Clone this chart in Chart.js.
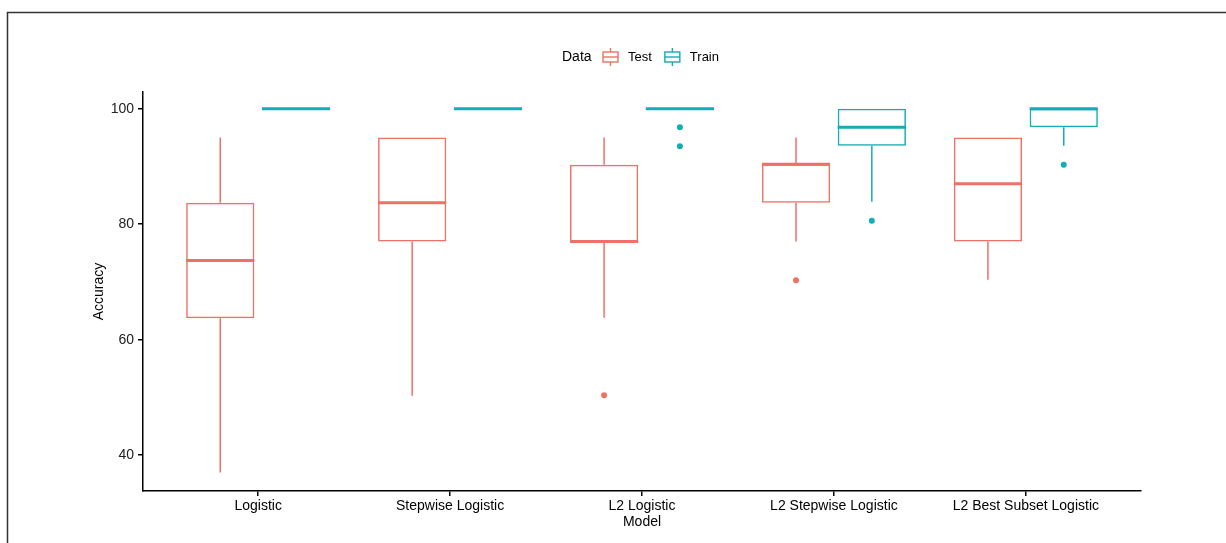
<!DOCTYPE html>
<html>
<head>
<meta charset="utf-8">
<script src="https://cdn.jsdelivr.net/npm/chart.js@4.4.1/dist/chart.umd.min.js"></script>
<style>
  html, body { margin: 0; padding: 0; background: #fff; }
  #wrap { position: relative; width: 1226px; height: 543px; }
</style>
</head>
<body>
<div id="wrap"><canvas id="boxChart" width="1226" height="543"></canvas></div>
<script>
// categories + ticks
const models = ['Logistic', 'Stepwise Logistic', 'L2 Logistic', 'L2 Stepwise Logistic', 'L2 Best Subset Logistic'];
const yTicks = [40, 60, 80, 100];

// Test boxes
const testLow = [37.0, 50.3, 63.8, 77.0, 70.4];
const testQ1 = [63.7, 77.0, 77.0, 83.7, 77.0];
const testMedian = [73.7, 83.7, 77.0, 90.4, 87.0];
const testQ3 = [83.7, 95.0, 90.3, 90.4, 95.0];
const testHigh = [95.0, 95.0, 95.0, 95.0, 95.0];
const testOutliers = [[], [], [50.4], [70.3], []];

// Train boxes
const trainLow = [100, 100, 100, 83.9, 93.6];
const trainQ1 = [100, 100, 100, 93.6, 96.8];
const trainMedian = [100, 100, 100, 96.8, 100];
const trainQ3 = [100, 100, 100, 100, 100];
const trainHigh = [100, 100, 100, 100, 100];
const trainOutliers = [[], [], [96.8, 93.5], [80.6], [90.3]];

const testColor = '#EE7166';
const trainColor = '#14ADB3';
const font = "'Liberation Sans', Arial, sans-serif";

function boxData(q1, q3) {
    return models.map((m, i) => ({ x: i, y: [q1[i], q3[i]] }));
}

function line(ctx, x1, y1, x2, y2) {
    ctx.beginPath();
    ctx.moveTo(x1, y1);
    ctx.lineTo(x2, y2);
    ctx.stroke();
}

// whiskers, medians and outlier dots, placed on each bar element
const whiskerPlugin = {
    id: 'whiskers',
    afterDatasetsDraw(chart) {
        const ctx = chart.ctx;
        const y = chart.scales.y;
        chart.data.datasets.forEach((ds, i) => {
            const meta = chart.getDatasetMeta(i);
            const s = ds.stats;
            meta.data.forEach((bar, j) => {
                const cx = bar.x;
                const half = bar.width / 2;
                ctx.save();
                ctx.strokeStyle = ds.borderColor;
                ctx.lineWidth = 1.5;
                if (s.high[j] > s.q3[j]) line(ctx, cx, y.getPixelForValue(s.q3[j]), cx, y.getPixelForValue(s.high[j]));
                if (s.low[j] < s.q1[j]) line(ctx, cx, y.getPixelForValue(s.q1[j]), cx, y.getPixelForValue(s.low[j]));
                ctx.lineWidth = 3;
                const my = y.getPixelForValue(s.median[j]);
                line(ctx, cx - half, my, cx + half, my);
                ctx.fillStyle = ds.borderColor;
                s.outliers[j].forEach(v => {
                    ctx.beginPath();
                    ctx.arc(cx, y.getPixelForValue(v), 3, 0, Math.PI * 2);
                    ctx.fill();
                });
                ctx.restore();
            });
        });
    }
};

// ggplot-style legend with small box glyphs + outer frame
const legendPlugin = {
    id: 'ggLegend',
    afterDraw(chart) {
        const ctx = chart.ctx;
        ctx.save();
        ctx.strokeStyle = '#333';
        ctx.lineWidth = 1.5;
        ctx.beginPath();
        ctx.moveTo(7.5, 543);
        ctx.lineTo(7.5, 12.5);
        ctx.lineTo(1226, 12.5);
        ctx.stroke();

        const cy = 57;
        ctx.fillStyle = '#000';
        ctx.textBaseline = 'middle';
        ctx.font = '14px ' + font;
        ctx.fillText('Data', 562, cy);
        ctx.font = '13px ' + font;
        let x = 603;
        chart.data.datasets.forEach(ds => {
            ctx.strokeStyle = ds.borderColor;
            ctx.lineWidth = 1.4;
            ctx.strokeRect(x, cy - 5, 15, 10);
            line(ctx, x, cy, x + 15, cy);
            line(ctx, x + 7.5, cy - 5, x + 7.5, cy - 9);
            line(ctx, x + 7.5, cy + 5, x + 7.5, cy + 9);
            ctx.fillStyle = '#000';
            ctx.fillText(ds.label, x + 25, cy);
            x += 25 + ctx.measureText(ds.label).width + 13;
        });
        ctx.restore();
    }
};

new Chart(document.getElementById('boxChart').getContext('2d'), {
    type: 'bar',
    data: {
        datasets: [
            {
                label: 'Test',
                data: boxData(testQ1, testQ3),
                stats: { low: testLow, q1: testQ1, median: testMedian, q3: testQ3, high: testHigh, outliers: testOutliers },
                borderColor: testColor,
                backgroundColor: 'rgba(0,0,0,0)',
                borderWidth: 1.5,
                borderSkipped: false
            },
            {
                label: 'Train',
                data: boxData(trainQ1, trainQ3),
                stats: { low: trainLow, q1: trainQ1, median: trainMedian, q3: trainQ3, high: trainHigh, outliers: trainOutliers },
                borderColor: trainColor,
                backgroundColor: 'rgba(0,0,0,0)',
                borderWidth: 1.5,
                borderSkipped: false
            }
        ]
    },
    options: {
        responsive: false,
        animation: false,
        categoryPercentage: 0.79,
        barPercentage: 0.9,
        layout: { padding: { left: 80, top: 92, right: 85, bottom: 0 } },
        plugins: { legend: { display: false }, tooltip: { enabled: false } },
        scales: {
            x: {
                type: 'linear',
                min: -0.6,
                max: 4.6,
                offset: false,
                afterBuildTicks: s => { s.ticks = models.map((m, i) => ({ value: i })); },
                afterFit: s => { s.height = 52; },
                grid: { offset: false, drawOnChartArea: false, tickLength: 5, color: '#000', lineWidth: 1.5 },
                border: { color: '#000', width: 1.5 },
                ticks: { color: '#000', font: { family: font, size: 14 }, padding: 2, maxRotation: 0, autoSkip: false,
                         callback: v => models[v] },
                title: { display: true, text: 'Model', color: '#000', font: { family: font, size: 14 }, padding: 12 }
            },
            y: {
                min: 33.8,
                max: 102.9,
                afterBuildTicks: s => { s.ticks = yTicks.map(v => ({ value: v })); },
                afterFit: s => { s.width = 63; },
                grid: { drawOnChartArea: false, tickLength: 5, color: '#000', lineWidth: 1.5 },
                border: { color: '#000', width: 1.5 },
                ticks: { color: '#222', font: { family: font, size: 14 }, padding: 4 },
                title: { display: true, text: 'Accuracy', color: '#000', font: { family: font, size: 14 }, padding: 11 }
            }
        }
    },
    plugins: [whiskerPlugin, legendPlugin]
});
</script>
</body>
</html>
